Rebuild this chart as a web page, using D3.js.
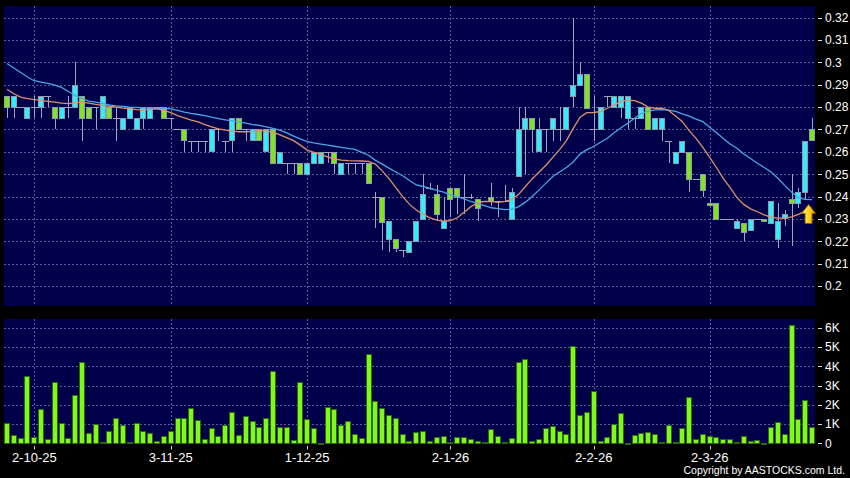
<!DOCTYPE html>
<html>
<head>
<meta charset="utf-8">
<script src="https://cdn.jsdelivr.net/npm/d3@7"></script>
<style>
  html, body { margin: 0; padding: 0; background: #000; }
  svg { display: block; }
  text { font-family: "Liberation Sans", Arial, sans-serif; fill: #fff; }
</style>
</head>
<body>
<div id="chart"></div>
<script>
// Daily candles, oldest first (index 0 = late Sep 2025)
const opens = [
  0.285,0.28,0.28,0.275,0.28,0.28,0.285,0.28,0.275,0.28,
  0.28,0.285,0.28,0.28,0.275,0.28,0.275,0.27,0.275,0.27,
  0.275,0.275,0.28,0.28,0.275,0.27,0.27,0.265,0.265,0.265,
  0.26,0.27,0.265,0.265,0.275,0.27,0.265,0.27,0.26,0.27,
  0.255,0.255,0.255,0.255,0.25,0.255,0.255,0.26,0.26,0.25,
  0.255,0.255,0.255,0.255,0.24,0.24,0.221,0.221,0.216,0.215,
  0.22,0.23,0.244,0.241,0.226,0.244,0.244,0.24,0.24,0.239,
  0.238,0.24,0.238,0.238,0.23,0.249,0.27,0.275,0.26,0.27,
  0.27,0.27,0.27,0.285,0.29,0.295,0.27,0.27,0.285,0.28,
  0.28,0.275,0.275,0.275,0.28,0.27,0.27,0.265,0.255,0.26,
  0.26,0.248,0.25,0.237,0.237,0.23,0.23,0.226,0.228,0.225,
  0.23,0.23,0.228,0.221,0.23,0.239,0.237,0.242,0.27
];
const highs = [
  0.285,0.285,0.28,0.28,0.285,0.285,0.285,0.28,0.28,0.285,
  0.30,0.285,0.28,0.28,0.285,0.28,0.28,0.275,0.28,0.275,
  0.28,0.28,0.28,0.28,0.275,0.27,0.27,0.265,0.265,0.265,
  0.27,0.27,0.265,0.275,0.275,0.27,0.27,0.27,0.27,0.27,
  0.26,0.255,0.255,0.255,0.255,0.26,0.26,0.26,0.26,0.255,
  0.255,0.255,0.255,0.255,0.242,0.24,0.229,0.221,0.216,0.22,
  0.229,0.25,0.246,0.245,0.24,0.244,0.244,0.25,0.241,0.239,
  0.238,0.246,0.238,0.245,0.244,0.28,0.28,0.275,0.275,0.27,
  0.275,0.28,0.28,0.32,0.30,0.295,0.285,0.28,0.285,0.285,
  0.285,0.285,0.275,0.28,0.28,0.275,0.275,0.265,0.26,0.265,
  0.26,0.248,0.25,0.239,0.237,0.23,0.23,0.23,0.228,0.23,
  0.23,0.23,0.238,0.237,0.234,0.25,0.244,0.265,0.275
];
const lows = [
  0.275,0.275,0.28,0.275,0.275,0.275,0.28,0.27,0.275,0.275,
  0.28,0.265,0.275,0.27,0.275,0.275,0.265,0.27,0.275,0.27,
  0.27,0.275,0.28,0.275,0.27,0.27,0.26,0.26,0.26,0.26,
  0.26,0.265,0.26,0.26,0.27,0.265,0.265,0.265,0.26,0.255,
  0.255,0.25,0.25,0.25,0.25,0.255,0.255,0.255,0.25,0.25,
  0.25,0.25,0.25,0.246,0.226,0.216,0.215,0.215,0.213,0.215,
  0.22,0.23,0.243,0.229,0.226,0.231,0.232,0.232,0.239,0.229,
  0.238,0.236,0.231,0.238,0.23,0.249,0.25,0.26,0.26,0.26,
  0.265,0.265,0.27,0.28,0.29,0.28,0.265,0.27,0.28,0.28,
  0.275,0.27,0.27,0.275,0.27,0.27,0.265,0.255,0.255,0.26,
  0.242,0.248,0.24,0.236,0.23,0.23,0.23,0.226,0.22,0.225,
  0.23,0.229,0.228,0.217,0.227,0.218,0.235,0.239,0.265
];
const closes = [
  0.28,0.285,0.28,0.28,0.28,0.285,0.285,0.275,0.28,0.28,
  0.29,0.275,0.275,0.28,0.285,0.275,0.275,0.275,0.28,0.275,
  0.28,0.28,0.28,0.275,0.275,0.27,0.265,0.265,0.265,0.265,
  0.27,0.27,0.265,0.275,0.27,0.27,0.27,0.265,0.27,0.255,
  0.26,0.255,0.255,0.25,0.255,0.26,0.26,0.26,0.255,0.255,
  0.255,0.255,0.255,0.246,0.24,0.229,0.229,0.217,0.216,0.22,
  0.229,0.241,0.244,0.232,0.229,0.239,0.24,0.24,0.24,0.235,
  0.238,0.238,0.238,0.238,0.242,0.27,0.275,0.27,0.27,0.27,
  0.275,0.27,0.28,0.29,0.295,0.28,0.27,0.28,0.285,0.285,
  0.285,0.285,0.275,0.28,0.27,0.275,0.275,0.265,0.26,0.265,
  0.248,0.248,0.243,0.236,0.23,0.23,0.23,0.229,0.224,0.23,
  0.23,0.229,0.238,0.229,0.232,0.237,0.242,0.265,0.265
];
// Volume, thousands
const volumesK = [
  1.07,0.43,0.26,3.50,0.35,1.77,0.21,3.21,1.04,0.29,
  2.53,4.23,0.52,1.00,0.05,0.64,1.33,0.95,0.05,1.07,
  0.64,0.52,0.14,0.38,0.64,1.32,1.30,1.84,1.20,0.23,
  0.80,0.40,0.95,1.61,0.42,1.44,1.14,0.87,1.33,3.76,
  0.83,0.86,0.17,3.21,1.27,0.78,0.03,1.91,1.77,0.95,
  1.16,0.47,0.29,4.64,2.22,1.85,1.47,1.30,0.50,0.12,
  0.59,0.64,0.12,0.31,0.36,0.05,0.35,0.35,0.21,0.12,
  0.05,0.75,0.40,0.05,0.26,4.21,4.37,0.12,0.23,0.81,
  0.88,0.64,0.47,5.03,1.46,1.63,2.74,0.14,0.33,1.02,
  1.59,0.03,0.43,0.52,0.59,0.48,0.07,0.97,0.07,0.80,
  2.43,0.23,0.48,0.38,0.35,0.23,0.23,0.07,0.38,0.10,
  0.19,0.03,0.83,1.11,0.47,6.13,1.27,2.27,0.87
];
// Moving averages
const maShort = [
  0.2880,0.2860,0.2845,0.2838,0.2834,0.2830,0.2826,0.2822,0.2818,0.2816,
  0.2820,0.2822,0.2818,0.2812,0.2808,0.2804,0.2800,0.2796,0.2792,0.2789,
  0.2787,0.2790,0.2792,0.2785,0.2775,0.2762,0.2752,0.2742,0.2734,0.2722,
  0.2712,0.2703,0.2697,0.2693,0.2690,0.2690,0.2692,0.2695,0.2693,0.2688,
  0.2676,0.2664,0.2650,0.2630,0.2608,0.2598,0.2588,0.2578,0.2568,0.2563,
  0.2561,0.2560,0.2559,0.2557,0.2545,0.2515,0.2480,0.2440,0.2400,0.2365,
  0.2340,0.2320,0.2305,0.2295,0.2290,0.2293,0.2305,0.2330,0.2355,0.2372,
  0.2378,0.2378,0.2374,0.2378,0.2388,0.2410,0.2445,0.2480,0.2510,0.2540,
  0.2575,0.2610,0.2650,0.2705,0.2755,0.2775,0.2776,0.2780,0.2795,0.2810,
  0.2825,0.2832,0.2829,0.2818,0.2800,0.2795,0.2795,0.2785,0.2760,0.2735,
  0.2695,0.2660,0.2620,0.2575,0.2530,0.2480,0.2440,0.2395,0.2365,0.2345,
  0.2332,0.2318,0.2308,0.2304,0.2304,0.2309,0.2320,0.2335,0.2350
];
const maLong = [
  0.2995,0.2975,0.2955,0.2935,0.2918,0.2912,0.2906,0.2898,0.2888,0.2870,
  0.2852,0.2838,0.2827,0.2822,0.2817,0.2810,0.2806,0.2803,0.2800,0.2799,
  0.2797,0.2796,0.2795,0.2794,0.2792,0.2786,0.2778,0.2772,0.2767,0.2762,
  0.2755,0.2749,0.2743,0.2739,0.2733,0.2728,0.2722,0.2718,0.2712,0.2705,
  0.2697,0.2685,0.2670,0.2658,0.2646,0.2640,0.2635,0.2630,0.2625,0.2620,
  0.2616,0.2611,0.2598,0.2585,0.2562,0.2545,0.2527,0.2510,0.2493,0.2472,
  0.2452,0.2445,0.2437,0.2428,0.2420,0.2408,0.2400,0.2390,0.2378,0.2368,
  0.2360,0.2350,0.2346,0.2342,0.2343,0.2355,0.2375,0.2400,0.2430,0.2460,
  0.2490,0.2510,0.2530,0.2555,0.2590,0.2610,0.2624,0.2643,0.2661,0.2685,
  0.2708,0.2728,0.2750,0.2772,0.2782,0.2788,0.2789,0.2787,0.2781,0.2770,
  0.2760,0.2746,0.2735,0.2710,0.2685,0.2660,0.2635,0.2616,0.2590,0.2570,
  0.2549,0.2530,0.2510,0.2482,0.2450,0.2420,0.2395,0.2387,0.2386
];

// Axis ticks
const dateTickIdx = [4, 24, 44, 65, 86, 103];
const dateTickLabels = ["2-10-25", "3-11-25", "1-12-25", "2-1-26", "2-2-26", "2-3-26"];
const priceTicks = [0.2, 0.21, 0.22, 0.23, 0.24, 0.25, 0.26, 0.27, 0.28, 0.29, 0.3, 0.31, 0.32];
const volTicksK = [0, 1, 2, 3, 4, 5, 6];
const arrowAt = { idx: 117.5, price: 0.2365 };

// Layout
const W = 850, H = 478;
const plotL = 4, plotR = 815;
const priceTop = 6, priceBot = 306;
const volTop = 319, volBot = 443.5;

const colors = {
  panel: "#00004a",
  grid: "#5d5d98",
  up: "#33eefa",
  down: "#80e41e",
  bodyStroke: "#8a9cae",
  wick: "#a4a4b8",
  maShort: "#e0906a",
  maLong: "#4aa6e6",
  vol: "#7ff81e",
  volStroke: "#2c6a08"
};

const svg = d3.select("#chart").append("svg")
  .attr("width", W)
  .attr("height", H);

svg.append("rect").attr("width", W).attr("height", H).attr("fill", "#000");

const n = closes.length;
const x = d3.scaleBand()
  .domain(d3.range(n))
  .range([plotL, plotR])
  .paddingInner(0.12);
const bw = x.bandwidth();
const cx = i => x(Math.floor(i)) + bw / 2 + (i % 1) * x.step();

const y = d3.scaleLinear().domain([0.2, 0.32]).range([286, 17.7]);
const yv = d3.scaleLinear().domain([0, 6]).range([443.3, 327.8]);

// Panels
svg.append("rect")
  .attr("x", plotL).attr("y", priceTop)
  .attr("width", plotR - plotL).attr("height", priceBot - priceTop)
  .attr("fill", colors.panel);
svg.append("rect")
  .attr("x", plotL).attr("y", volTop)
  .attr("width", plotR - plotL).attr("height", volBot - volTop)
  .attr("fill", colors.panel);

const defs = svg.append("defs");
defs.append("clipPath").attr("id", "clipPrice")
  .append("rect").attr("x", plotL).attr("y", priceTop)
  .attr("width", plotR - plotL).attr("height", priceBot - priceTop);

// Grid lines
const grid = svg.append("g")
  .attr("stroke", colors.grid)
  .attr("stroke-width", 1)
  .attr("stroke-dasharray", "2,2")
  .attr("shape-rendering", "crispEdges");

grid.selectAll(".hp").data(priceTicks).enter().append("line")
  .attr("x1", plotL).attr("x2", plotR)
  .attr("y1", d => Math.round(y(d)) + 0.5).attr("y2", d => Math.round(y(d)) + 0.5);
grid.selectAll(".hv").data(volTicksK.slice(1)).enter().append("line")
  .attr("x1", plotL).attr("x2", plotR)
  .attr("y1", d => Math.round(yv(d)) + 0.5).attr("y2", d => Math.round(yv(d)) + 0.5);
grid.selectAll(".vp").data(dateTickIdx).enter().append("line")
  .attr("x1", d => Math.round(cx(d)) + 0.5).attr("x2", d => Math.round(cx(d)) + 0.5)
  .attr("y1", priceTop).attr("y2", priceBot);
grid.selectAll(".vv").data(dateTickIdx).enter().append("line")
  .attr("x1", d => Math.round(cx(d)) + 0.5).attr("x2", d => Math.round(cx(d)) + 0.5)
  .attr("y1", volTop).attr("y2", volBot);

// Candles
const candles = d3.range(n).map(i => ({
  i, o: opens[i], h: highs[i], l: lows[i], c: closes[i]
}));

const cg = svg.append("g").attr("clip-path", "url(#clipPrice)")
  .attr("shape-rendering", "crispEdges");

cg.selectAll(".wick").data(candles.filter(d => d.h > d.l)).enter().append("line")
  .attr("x1", d => Math.round(cx(d.i)) + 0.5)
  .attr("x2", d => Math.round(cx(d.i)) + 0.5)
  .attr("y1", d => y(d.h))
  .attr("y2", d => y(d.l))
  .attr("stroke", colors.wick)
  .attr("stroke-width", 1);

// flat candles (open == close) drawn as a gray dash
cg.selectAll(".flat").data(candles.filter(d => d.o === d.c)).enter().append("line")
  .attr("x1", d => x(d.i) - 0.5)
  .attr("x2", d => x(d.i) + bw + 0.5)
  .attr("y1", d => Math.round(y(d.c)) + 0.5)
  .attr("y2", d => Math.round(y(d.c)) + 0.5)
  .attr("stroke", colors.wick)
  .attr("stroke-width", 1);

cg.selectAll(".body").data(candles.filter(d => d.o !== d.c)).enter().append("rect")
  .attr("x", d => Math.round(x(d.i)) + 0.5)
  .attr("y", d => Math.round(y(Math.max(d.o, d.c))) + 0.5)
  .attr("width", Math.round(bw) - 1)
  .attr("height", d => Math.max(1, Math.round(Math.abs(y(d.o) - y(d.c)))))
  .attr("fill", d => d.c > d.o ? colors.up : colors.down)
  .attr("stroke", colors.bodyStroke)
  .attr("stroke-width", 1);

// Moving average lines
const maLine = d3.line()
  .x((d, i) => cx(i))
  .y(d => y(d));

const mg = svg.append("g").attr("clip-path", "url(#clipPrice)").attr("fill", "none");
mg.append("path").datum(maLong)
  .attr("d", maLine)
  .attr("stroke", colors.maLong)
  .attr("stroke-width", 1.3);
mg.append("path").datum(maShort)
  .attr("d", maLine)
  .attr("stroke", colors.maShort)
  .attr("stroke-width", 1.3);

// Signal arrow
const grad = defs.append("linearGradient").attr("id", "arrowGrad")
  .attr("x1", 0).attr("y1", 0).attr("x2", 1).attr("y2", 0);
grad.append("stop").attr("offset", "0%").attr("stop-color", "#fff27a");
grad.append("stop").attr("offset", "55%").attr("stop-color", "#ffd21a");
grad.append("stop").attr("offset", "100%").attr("stop-color", "#d98c00");

const ax = cx(arrowAt.idx), ay = y(arrowAt.price);
svg.append("path")
  .attr("d", "M0,0 L7,9 L3.5,9 L3.5,19 L-3.5,19 L-3.5,9 L-7,9 Z")
  .attr("transform", `translate(${ax},${ay})`)
  .attr("fill", "url(#arrowGrad)")
  .attr("stroke", "#8a5a00")
  .attr("stroke-width", 0.8);

// Volume bars
svg.append("g").attr("shape-rendering", "crispEdges")
  .selectAll("rect").data(volumesK).enter().append("rect")
  .attr("x", (d, i) => Math.round(x(i)) + 0.5)
  .attr("y", d => Math.round(yv(d)) + 0.5)
  .attr("width", Math.round(bw) - 1)
  .attr("height", d => Math.max(0.5, Math.round(yv(0)) - Math.round(yv(d))))
  .attr("fill", colors.vol)
  .attr("stroke", colors.volStroke)
  .attr("stroke-width", 1);

// Right axes
const axisG = svg.append("g");
axisG.selectAll(".pt").data(priceTicks).enter().append("line")
  .attr("x1", 818).attr("x2", 822)
  .attr("y1", d => Math.round(y(d)) + 0.5).attr("y2", d => Math.round(y(d)) + 0.5)
  .attr("stroke", "#ddd");
axisG.selectAll(".pl").data(priceTicks).enter().append("text")
  .attr("x", 825).attr("y", d => y(d) + 4.3)
  .attr("font-size", 12)
  .text(d => String(+d.toFixed(2)));

axisG.selectAll(".vt").data(volTicksK).enter().append("line")
  .attr("x1", 818).attr("x2", 822)
  .attr("y1", d => Math.round(yv(d)) + 0.5).attr("y2", d => Math.round(yv(d)) + 0.5)
  .attr("stroke", "#ddd");
axisG.selectAll(".vl").data(volTicksK).enter().append("text")
  .attr("x", 825).attr("y", d => yv(d) + 4.3)
  .attr("font-size", 12)
  .text(d => d === 0 ? "0" : d + "K");

// Date axis
axisG.selectAll(".dt").data(dateTickIdx).enter().append("line")
  .attr("x1", d => Math.round(cx(d)) + 0.5).attr("x2", d => Math.round(cx(d)) + 0.5)
  .attr("y1", 446).attr("y2", 449.5)
  .attr("stroke", "#ccc");
axisG.selectAll(".dl").data(dateTickIdx).enter().append("text")
  .attr("x", d => cx(d)).attr("y", 462)
  .attr("text-anchor", "middle")
  .attr("font-size", 13)
  .text((d, i) => dateTickLabels[i]);

svg.append("text")
  .attr("x", 845).attr("y", 474)
  .attr("text-anchor", "end")
  .attr("font-size", 10.5)
  .text("Copyright by AASTOCKS.com Ltd.");
</script>
</body>
</html>
